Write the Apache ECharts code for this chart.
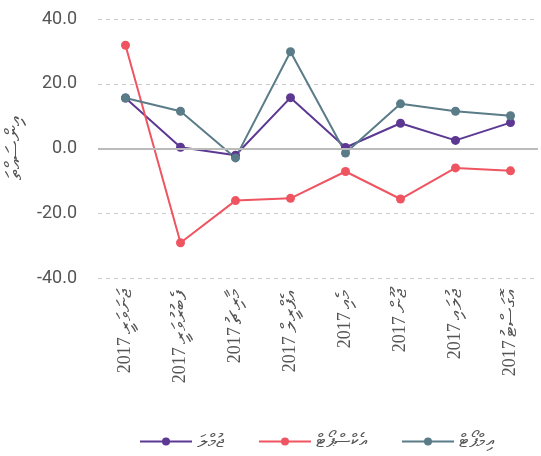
<!DOCTYPE html>
<html>
<head>
<meta charset="utf-8">
<script src="https://cdn.jsdelivr.net/npm/echarts@6/dist/echarts.min.js"></script>
<style>
  html, body { margin: 0; padding: 0; background: #fff; }
  #chart { width: 541px; height: 456px; }
</style>
</head>
<body>
<div id="chart"></div>
<script>
// months of 2017 (Dhivehi)
const months = ['ޖަނަވަރީ', 'ފެބުރުވަރީ', 'މާރިޗު', 'އެޕްރީލް', 'މެއި', 'ޖޫން', 'ޖުލައި', 'އޮގަސްޓު']
const year = '2017'
const seriesNames = ['ޖުމްލަ', 'އެކްސްޕޯޓް', 'އިމްޕޯޓް']
const totalValues = [15.6, 0.4, -2.1, 15.7, 0.3, 7.8, 2.5, 8.0]
const exportValues = [31.9, -29.1, -16.1, -15.4, -7.1, -15.6, -6.0, -6.9]
const importValues = [15.6, 11.5, -2.9, 29.9, -1.4, 13.8, 11.5, 10.1]
const yTicks = { min: -40, max: 40, interval: 20 }
const yName = 'އިންސައްތަ'

const colors = ['#5c3893', '#ef5461', '#5a7b88']
const chart = echarts.init(document.getElementById('chart'))

const makeSeries = (name, data, color) => ({
  name: name,
  type: 'line',
  data: data,
  symbol: 'circle',
  symbolSize: 9,
  lineStyle: { color: color, width: 2 },
  itemStyle: { color: color }
})

const option = {
  animation: false,
  color: colors,
  grid: { left: 98, right: 3, top: 19, bottom: 178, containLabel: false, outerBoundsMode: 'none' },
  legend: {
    bottom: 0,
    left: 134,
    itemWidth: 52,
    itemHeight: 10,
    itemGap: 34,
    textStyle: { color: '#555', fontSize: 19 },
    data: seriesNames
  },
  xAxis: {
    type: 'category',
    data: months,
    axisLine: { show: false },
    axisTick: { show: false },
    axisLabel: {
      rotate: 90,
      interval: 0,
      margin: 12,
      color: '#555',
      formatter: m => '{y|' + year + '} {m|' + m + '}',
      rich: {
        y: { fontFamily: 'Liberation Serif', fontSize: 18, color: '#555' },
        m: { fontSize: 21, color: '#555' }
      }
    }
  },
  yAxis: {
    type: 'value',
    min: yTicks.min,
    max: yTicks.max,
    interval: yTicks.interval,
    name: yName,
    nameLocation: 'middle',
    nameRotate: 90,
    nameGap: 70,
    nameTextStyle: { color: '#555', fontSize: 22 },
    axisLine: { show: false },
    axisTick: { show: false },
    axisLabel: {
      margin: 21,
      color: '#555',
      fontFamily: 'Roboto',
      fontSize: 18,
      formatter: v => v.toFixed(1)
    },
    splitLine: { lineStyle: { color: '#ccc', type: [4, 4], width: 1 } }
  },
  series: [
    makeSeries(seriesNames[0], totalValues, colors[0]),
    makeSeries(seriesNames[1], exportValues, colors[1]),
    Object.assign(makeSeries(seriesNames[2], importValues, colors[2]), {
      markLine: {
        silent: true,
        symbol: 'none',
        label: { show: false },
        lineStyle: { color: '#bbb', type: 'solid', width: 2 },
        data: [{ yAxis: 0 }]
      }
    })
  ]
}

chart.setOption(option)
window.addEventListener('resize', () => {
  chart.resize()
})
</script>
</body>
</html>
